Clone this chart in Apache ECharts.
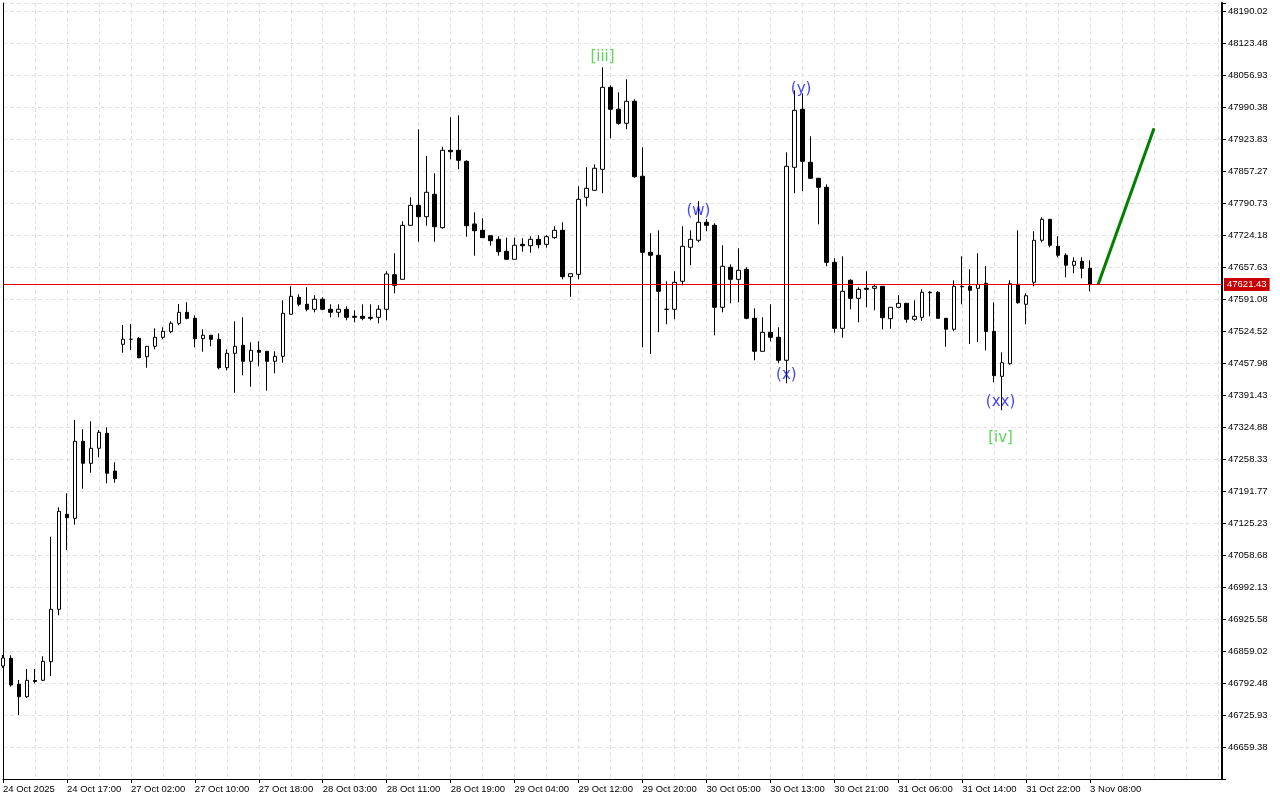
<!DOCTYPE html>
<html><head><meta charset="utf-8">
<script src="https://cdn.jsdelivr.net/npm/echarts@6/dist/echarts.min.js"></script>
<style>html,body{margin:0;padding:0;background:#fff;}#chart{width:1280px;height:800px;}</style>
</head><body><div id="chart"></div>
<script>
// ---- data (hourly candles, index 0 = 24 Oct 2025 09:00) ----
const opens = [46827.8,46843.8,46789.8,46764.0,46797.7,46798.1,46836.8,46945.7,47143.3,47135.0,
47295.1,47249.4,47280.6,47311.8,47233.4,47496.9,47507.3,47509.3,47471.1,47492.7,
47511.4,47523.1,47540.5,47563.4,47550.9,47508.5,47515.6,47507.3,47448.2,47478.1,
47494.8,47461.5,47484.4,47482.3,47461.5,47471.9,47559.3,47594.6,47580.1,47569.7,
47590.5,47569.7,47563.4,47569.7,47555.1,47555.1,47553.0,47553.0,47569.7,47641.6,
47632.0,47744.3,47785.9,47762.2,47808.8,47739.4,47900.3,47900.3,47877.4,47747.1,
47733.9,47722.7,47715.2,47690.3,47673.6,47704.8,47701.9,47715.2,47704.8,47718.6,
47733.9,47637.5,47642.4,47802.6,47817.1,47860.8,48031.3,47985.6,47956.5,48002.2,
47846.3,47688.2,47682.0,47569.7,47569.7,47627.9,47698.6,47713.2,47750.6,47744.3,
47573.8,47657.0,47632.0,47652.8,47550.9,47482.3,47521.8,47511.4,47463.6,47865.0,
47985.6,47875.4,47842.1,47823.4,47667.4,47530.1,47630.0,47592.5,47613.3,47613.3,
47617.5,47550.1,47573.8,47582.1,47548.9,47553.0,47605.0,47605.0,47550.9,47528.1,
47617.1,47617.5,47613.3,47623.7,47523.9,47430.3,47456.5,47621.6,47580.1,47625.8,
47713.2,47756.8,47700.7,47682.0,47661.2,47669.5,47654.9];
const highs = [46850.7,46850.1,46798.7,46821.6,46821.6,46848.0,47096.7,47157.9,47187.0,47339.4,
47320.1,47336.7,47318.6,47324.2,47251.5,47537.0,47539.1,47511.4,47492.7,47530.1,
47532.2,47544.7,47580.7,47584.2,47557.2,47528.1,47515.6,47519.7,47486.5,47544.7,
47553.0,47501.0,47503.1,47482.3,47482.3,47588.4,47617.5,47600.8,47615.4,47598.8,
47594.6,47580.1,47580.1,47575.9,47567.6,47580.1,47580.1,47578.0,47648.7,47686.1,
47752.7,47802.6,47944.0,47888.5,47852.5,47907.8,47969.0,47973.1,47879.5,47771.4,
47758.9,47722.7,47721.5,47718.6,47718.6,47717.3,47721.5,47723.6,47723.6,47742.3,
47750.6,47643.7,47825.5,47865.0,47871.2,48072.9,48035.5,48020.9,48048.0,48006.4,
47906.6,47727.7,47733.9,47627.9,47648.7,47742.3,47733.9,47794.3,47757.5,47748.5,
47702.8,47663.2,47696.5,47657.0,47571.7,47553.0,47580.1,47532.2,47896.2,48025.1,
48018.9,47929.4,47842.1,47829.6,47675.7,47679.9,47632.0,47615.4,47648.7,47621.6,
47617.5,47573.8,47598.8,47582.1,47588.4,47611.2,47607.1,47607.1,47550.9,47630.0,
47679.9,47652.8,47686.1,47659.7,47584.2,47480.2,47630.0,47733.9,47602.9,47731.9,
47761.0,47756.8,47721.5,47686.1,47677.8,47677.8,47671.6];
const lows = [46823.7,46784.8,46725.9,46761.9,46791.8,46796.6,46807.0,46933.3,47069.1,47121.7,
47196.5,47229.8,47261.9,47207.8,47209.0,47479.4,47485.0,47467.7,47448.2,47486.5,
47507.3,47519.7,47536.4,47548.9,47490.6,47481.5,47492.7,47444.9,47442.8,47396.2,
47432.4,47408.7,47451.1,47400.4,47436.6,47458.6,47559.3,47575.9,47565.5,47563.4,
47567.6,47553.0,47553.0,47546.8,47542.6,47546.8,47546.8,47540.5,47546.8,47602.9,
47632.0,47744.3,47710.2,47743.5,47710.2,47737.3,47881.6,47860.8,47720.6,47681.1,
47718.6,47701.9,47681.1,47673.6,47673.6,47689.4,47687.4,47696.5,47697.8,47716.5,
47632.0,47595.9,47632.0,47783.9,47817.1,47810.9,47925.3,47953.6,47944.0,47843.3,
47490.6,47476.7,47521.8,47538.5,47548.9,47619.6,47661.2,47709.0,47731.9,47515.6,
47563.4,47582.1,47584.2,47548.9,47463.6,47482.3,47503.1,47457.3,47415.8,47810.9,
47815.1,47842.1,47746.4,47659.1,47521.0,47510.6,47569.7,47542.6,47573.8,47567.6,
47528.1,47529.3,47571.7,47541.8,47545.9,47545.9,47555.1,47550.9,47491.9,47523.9,
47580.1,47497.5,47501.6,47484.0,47417.8,47359.6,47454.4,47581.3,47538.5,47617.5,
47709.0,47698.6,47677.8,47636.2,47644.5,47634.1,47607.1];
const closes = [46844.5,46788.3,46764.0,46798.1,46795.6,46837.6,46945.7,47149.5,47136.2,47295.1,
47249.4,47280.6,47313.8,47228.6,47217.4,47507.3,47507.3,47469.0,47492.7,47511.4,
47523.9,47540.5,47563.4,47550.9,47508.5,47515.6,47507.3,47448.2,47478.1,47492.7,
47461.5,47484.4,47480.2,47461.5,47471.9,47561.3,47596.7,47580.1,47569.7,47590.5,
47569.7,47563.4,47569.7,47553.0,47553.0,47550.9,47550.9,47569.7,47643.1,47619.6,
47744.3,47785.9,47762.2,47813.0,47741.4,47900.3,47897.4,47879.5,47743.5,47733.1,
47718.6,47712.3,47689.4,47673.6,47702.8,47701.9,47715.2,47704.0,47720.6,47733.9,
47637.5,47643.7,47798.4,47821.3,47862.9,48031.3,47985.6,47956.5,48002.2,47845.4,
47688.2,47682.0,47607.1,47569.7,47625.8,47700.7,47715.2,47750.6,47744.3,47573.8,
47659.1,47632.0,47650.8,47550.9,47482.3,47521.8,47511.4,47463.6,47867.1,47983.5,
47877.4,47842.1,47823.4,47667.4,47530.1,47607.1,47592.5,47611.2,47611.2,47617.5,
47552.2,47573.8,47582.1,47548.9,47555.1,47605.0,47604.2,47550.9,47528.1,47617.5,
47616.4,47609.2,47621.6,47523.5,47431.6,47458.6,47622.9,47583.4,47597.9,47713.2,
47756.8,47702.8,47682.0,47661.2,47669.5,47654.9,47621.43];
const xTickLabels = ['24 Oct 2025','24 Oct 17:00','27 Oct 02:00','27 Oct 10:00','27 Oct 18:00',
'28 Oct 03:00','28 Oct 11:00','28 Oct 19:00','29 Oct 04:00','29 Oct 12:00','29 Oct 20:00',
'30 Oct 05:00','30 Oct 13:00','30 Oct 21:00','31 Oct 06:00','31 Oct 14:00','31 Oct 22:00','3 Nov 08:00'];
const xTickEvery = 8;              // bars between time labels
const yTickLabels = ['46659.38','46725.93','46792.48','46859.02','46925.58','46992.13','47058.68',
'47125.23','47191.77','47258.33','47324.88','47391.43','47457.98','47524.52','47591.08','47657.63',
'47724.18','47790.73','47857.27','47923.83','47990.38','48056.93','48123.48','48190.02'];
const currentPrice = 47621.43;
const forecastIdx = [137, 144];
const forecastPrice = [47621.43, 47946];
const waveText  = ['[iii]','(w)','(x)','(y)','(xx)','[iv]'];
const waveIdx   = [75, 87, 98, 99.85, 124.8, 124.8];
const wavePrice = [48094.4, 47774.1, 47433.0, 48027.8, 47376.9, 47302.0];
const waveKind  = ['major','minor','minor','minor','minor','major'];

// ---- derived axis settings ----
const yVals = yTickLabels.map(Number);
const yStep = (yVals[yVals.length-1] - yVals[0]) / (yVals.length - 1);
const yMin = yVals[0] - yStep;
const yMax = yVals[yVals.length-1] + yStep * 0.25;
const xMin = 0, xMax = 152.5;
const xTickVals = xTickLabels.map((_, i) => i * xTickEvery);
const FONT = 'Liberation Sans';

const chart = echarts.init(document.getElementById('chart'));
chart.setOption({
  animation: false,
  backgroundColor: '#ffffff',
  grid: { left: 2, right: 58, top: 3, bottom: 21, show: false },
  xAxis: [
    { type: 'value', min: xMin, max: xMax, interval: 4,
      axisLine: { show: false }, axisTick: { show: false }, axisLabel: { show: false },
      splitLine: { show: true, lineStyle: { color: '#e2e2e2', type: [4, 3], width: 1 } } },
    { type: 'value', min: xMin, max: xMax, position: 'bottom',
      axisLine: { show: true, onZero: false, lineStyle: { color: '#000', width: 1 } },
      axisTick: { show: true, customValues: xTickVals, length: 4, lineStyle: { color: '#000' } },
      axisLabel: { show: true, customValues: xTickVals, align: 'left', margin: 5, color: '#000',
        fontFamily: FONT, fontSize: 9.5, formatter: v => xTickLabels[Math.round(v / xTickEvery)] || '' },
      splitLine: { show: false } }
  ],
  yAxis: [{
    type: 'value', position: 'right', min: yMin, max: yMax, interval: yStep,
    axisLine: { show: true, onZero: false, lineStyle: { color: '#000', width: 2 } },
    axisTick: { show: true, length: 4, lineStyle: { color: '#000' } },
    axisLabel: { show: true, margin: 6, color: '#000', fontFamily: FONT, fontSize: 9.5,
      formatter: v => {
        const i = Math.round((v - yVals[0]) / yStep);
        if (i < 0 || i >= yVals.length) return '';
        if (Math.abs(v - (yVals[0] + i * yStep)) > yStep * 0.1) return '';
        return yTickLabels[i];
      } },
    splitLine: { show: true, lineStyle: { color: '#e2e2e2', type: [4, 3], width: 1 } }
  }, {
    type: 'value', position: 'left', min: yMin, max: yMax, interval: yStep,
    axisLine: { show: true, onZero: false, lineStyle: { color: '#000', width: 1 } },
    axisTick: { show: false }, axisLabel: { show: false }, splitLine: { show: false }
  }],
  series: [
    { type: 'candlestick', xAxisIndex: 0, yAxisIndex: 0, barWidth: 4,
      encode: { x: 0, y: [1, 2, 3, 4] },
      data: opens.map((o, i) => [i, o, closes[i], lows[i], highs[i]]),
      itemStyle: { color: '#ffffff', color0: '#000000', borderColor: '#000000', borderColor0: '#000000', borderWidth: 1 },
      markLine: { silent: true, symbol: ['none', 'none'],
        lineStyle: { color: '#e00000', width: 1, type: 'solid' },
        label: { show: true, position: 'end', distance: 2, formatter: currentPrice.toFixed(2),
          color: '#fff', backgroundColor: '#c80000', padding: [2, 3, 1, 3], fontFamily: FONT, fontSize: 9.5 },
        data: [{ yAxis: currentPrice }] } },
    { type: 'line', xAxisIndex: 0, yAxisIndex: 0, symbol: 'none',
      lineStyle: { color: '#008000', width: 3 },
      data: forecastIdx.map((x, i) => [x, forecastPrice[i]]) },
    { type: 'scatter', xAxisIndex: 0, yAxisIndex: 0, symbolSize: 0,
      data: waveText.map((t, i) => ({ value: [waveIdx[i], wavePrice[i]], name: t,
        label: { color: waveKind[i] === 'major' ? '#32cd32' : '#1010ff' } })),
      label: { show: true, position: 'inside', formatter: p => p.name, fontFamily: 'DejaVu Sans', fontSize: 15 } }
  ]
});
</script></body></html>
